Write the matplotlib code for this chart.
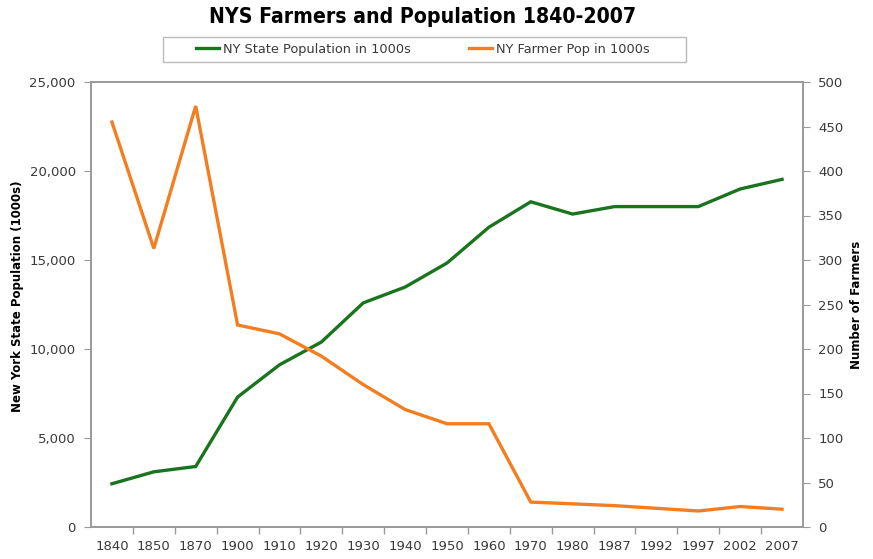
import matplotlib.pyplot as plt
from matplotlib.patches import Rectangle
from matplotlib.ticker import FuncFormatter, FixedLocator

# dados
anos = ['1840', '1850', '1870', '1900', '1910', '1920', '1930', '1940', '1950',
        '1960', '1970', '1980', '1987', '1992', '1997', '2002', '2007']
pop_estado = [2430, 3100, 3400, 7300, 9110, 10390, 12590, 13480, 14830,
              16840, 18270, 17580, 18000, 18000, 18000, 18990, 19530]
pop_agricultores = [455, 313, 473, 227, 217, 192, 160, 132, 116,
                    116, 28, 26, 24, 21, 18, 23, 20]

verde = '#1a741e'
laranja = '#f47d20'
cinza = '#999999'
texto = '#3a3a3a'

W, H = 873, 559
fig = plt.figure(figsize=(W / 100, H / 100), dpi=100)
ax = fig.add_axes([91 / W, 32 / H, 712 / W, 445 / H])
ax2 = ax.twinx()

x = list(range(len(anos)))
l1, = ax.plot(x, pop_estado, color=verde, linewidth=2.4, solid_joinstyle='miter',
              label='NY State Population in 1000s')
l2, = ax2.plot(x, pop_agricultores, color=laranja, linewidth=2.4, solid_joinstyle='miter',
               label='NY Farmer Pop in 1000s')

ax.set_xlim(-0.5, len(anos) - 0.5)
ax.set_ylim(0, 25000)
ax2.set_ylim(0, 500)
ax.set_yticks(range(0, 25001, 5000))
ax.yaxis.set_major_formatter(FuncFormatter(lambda v, p: f'{int(v):,}'))
ax2.set_yticks(range(0, 501, 50))

# ticks entre categorias, rotulos no centro
ax.xaxis.set_major_locator(FixedLocator([i + 0.5 for i in range(len(anos) - 1)]))
ax.xaxis.set_major_formatter(FuncFormatter(lambda v, p: ''))
ax.set_xticks(x, minor=True)
ax.set_xticklabels(anos, minor=True)
ax.tick_params(axis='x', which='major', length=5, color=cinza, width=1)
ax.tick_params(axis='x', which='minor', length=0, pad=9, labelsize=9.5, labelcolor=texto)
ax.tick_params(axis='y', length=5, color=cinza, labelsize=9.5, labelcolor=texto, pad=6)
ax2.tick_params(axis='y', length=5, color=cinza, labelsize=9.5, labelcolor=texto, pad=6)

for a in (ax, ax2):
    for s in a.spines.values():
        s.set_color(cinza)
        s.set_linewidth(1.2)

ax.set_ylabel('New York State Population (1000s)', fontsize=8.5, fontweight='bold')
ax.yaxis.set_label_coords(-0.094, 0.519)
ax2.set_ylabel('Number of Farmers', fontsize=8.5, fontweight='bold')
ax2.yaxis.set_label_coords(1.066, 0.5)

fig.suptitle('NYS Farmers and Population 1840-2007', x=0.484, y=0.988,
             fontsize=15.2, fontweight='black', fontstretch='condensed')

# caixa da legenda
fig.patches.append(Rectangle((163 / W, 1 - 62 / H), 523 / W, 25 / H, transform=fig.transFigure,
                             facecolor='white', edgecolor='#bbbbbb', linewidth=1))
leg = fig.legend(handles=[l1, l2], loc='center', bbox_to_anchor=(0.484, 1 - 49.5 / H),
                 ncol=2, frameon=False, fontsize=9.3,
                 handlelength=1.8, handletextpad=0.3, columnspacing=4.5)
for t in leg.get_texts():
    t.set_color(texto)

fig.savefig('out.png', dpi=100)
